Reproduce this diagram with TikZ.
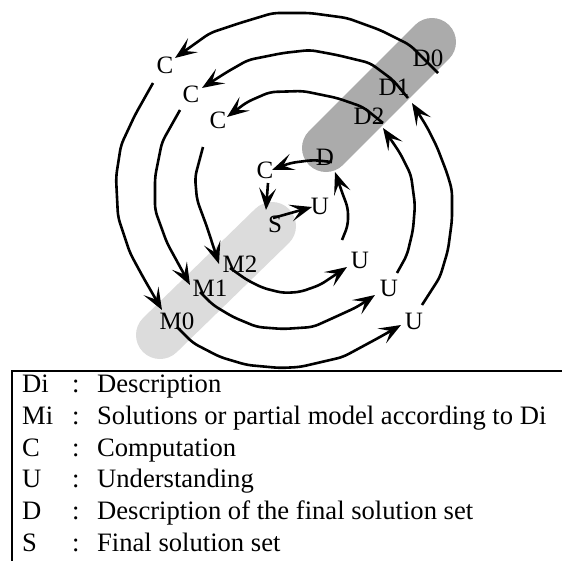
\documentclass[tikz,border=0pt]{standalone}
\usepackage{fontspec}
\setmainfont{Liberation Serif}
\usetikzlibrary{arrows.meta,calc}
\begin{document}
\begin{tikzpicture}[x=1pt,y=-1pt,
  lbl/.style={inner sep=0pt, font=\fontsize{25}{30}\selectfont},
  arr/.style={line width=2.6pt, line join=round, rounded corners=6pt,
    -{Stealth[length=22pt,width=17pt,inset=10pt]}},
  capsule/.style={line width=48pt, line cap=round},
  leg/.style={anchor=base west, inner sep=0pt, font=\fontsize{26.6}{31}\selectfont}]
\useasboundingbox (0,0) rectangle (562,560);
% grey bands
\draw[capsule, color={rgb,255:red,171;green,171;blue,171}] (326,148) -- (432,42);
\draw[capsule, color={rgb,255:red,220;green,220;blue,220}] (160,335) -- (272,226);
% labels
\node[lbl] (D0) at (428,58) {D0};
\node[lbl] (D1) at (394,87) {D1};
\node[lbl] (D2) at (369,116) {D2};
\node[lbl] (D) at (325,157) {D};
\node[lbl] (C0) at (165,65) {C};
\node[lbl] (C1) at (191,94) {C};
\node[lbl] (C2) at (218,120) {C};
\node[lbl] (C3) at (265,170) {C};
\node[lbl] (S) at (275,224) {S};
\node[lbl] (Ui) at (320,206) {U};
\node[lbl] (M2) at (240,264) {M2};
\node[lbl] (M1) at (210,288) {M1};
\node[lbl] (M0) at (177,321) {M0};
\node[lbl] (U2) at (360,260) {U};
\node[lbl] (U1) at (389,288) {U};
\node[lbl] (U0) at (414,321) {U};
% spiral
\draw[arr] ($(D0)+(10,15)$) -- (410,45) -- (380,30) -- (347,18) -- (310,13) -- (273,13) -- (240,23) -- (210,33) -- ($(C0)+(10,-7)$);
\draw[arr] ($(C0)+(-12,18)$) -- (135,115) -- (121,145) -- (116,177) -- (118,217) -- (130,253) -- (143,277) -- ($(M0)+(-15,-11)$);
\draw[arr] ($(M0)+(0,6)$) -- (193,343) -- (220,357) -- (247,365) -- (280,368) -- (300,367) -- (343,357) -- (380,337) -- ($(U0)+(-13,4)$);
\draw[arr] ($(U0)+(8,-16)$) -- (440,277) -- (448,250) -- (452,220) -- (452,190) -- (447,173) -- (437,147) -- (427,127) -- ($(D1)+(18,16)$);
\draw[arr] ($(D1)+(14,11)$) -- (393,80) -- (370,63) -- (337,55) -- (310,50) -- (283,53) -- (248,60) -- (227,72) -- ($(C1)+(11,-6)$);
\draw[arr] ($(C1)+(-11,16)$) -- (162,142) -- (155,177) -- (155,210) -- (167,243) -- ($(M1)+(-20,-3)$);
\draw[arr] ($(M1)+(-10,4)$) -- (213,305) -- (233,317) -- (257,327) -- (283,329) -- (313,327) -- (333,318) -- (357,307) -- ($(U1)+(-14,7)$);
\draw[arr] ($(U1)+(8,-15)$) -- (407,255) -- (413,230) -- (415,205) -- (411,175) -- (400,153) -- ($(D2)+(14,12)$);
\draw[arr] ($(D2)+(14,7)$) -- (363,107) -- (337,98) -- (303,91) -- (270,92) -- (247,102) -- ($(C2)+(9,-3)$);
\draw[arr] ($(C2)+(-15,27)$) -- (195,177) -- (197,200) -- (207,227) -- ($(M2)+(-21,0)$);
\draw[arr] ($(M2)+(-10,4)$) -- (247,280) -- (263,288) -- (283,293) -- (300,292) -- (320,285) -- ($(U2)+(-13,7)$);
\draw[arr] ($(U2)+(-18,-20)$) -- (348,225) -- (348,208) -- (343,195) -- ($(D)+(10,15)$);
\draw[arr] ($(D)+(7,5)$) -- (313,160) -- (290,163) -- ($(C3)+(7,0)$);
\draw[arr] ($(C3)+(3,13)$) -- ($(S)+(-9,-14)$);
\draw[arr] ($(S)+(-2,-6)$) -- ($(Ui)+(-8,1)$);
% legend
\draw[line width=2pt] (12,371) rectangle (600,600);
\foreach \k/\t/\y in {Di/Description/392, Mi/Solutions or partial model according to Di/424, C/Computation/456, U/Understanding/487, D/Description of the final solution set/519, S/Final solution set/551}{
  \node[leg] (k\k) at (22,\y) {\k};
  \node[leg] (c\k) at (72,\y) {:};
  \node[leg] (t\k) at (97,\y) {\t};
}
\end{tikzpicture}
\end{document}
